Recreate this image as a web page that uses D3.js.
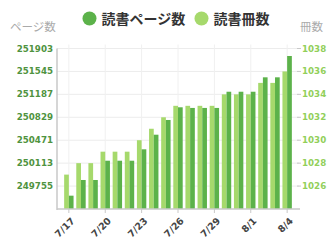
<!DOCTYPE html>
<html>
<head>
<meta charset="utf-8">
<script src="https://cdn.jsdelivr.net/npm/d3@7"></script>
<style>
  html, body { margin: 0; padding: 0; background: #fff; }
  svg { display: block; }
</style>
</head>
<body>
<svg id="chart" width="336" height="244"></svg>
<script>
// data
const days = ['7/17','7/18','7/19','7/20','7/21','7/22','7/23','7/24','7/25','7/26',
              '7/27','7/28','7/29','7/30','7/31','8/1','8/2','8/3','8/4'];
const books = [1027,1028,1028,1029,1029,1029,1030,1031,1032,1033,
               1033,1033,1033,1034,1034,1034,1035,1035,1036];
const pages = [249605,249850,249850,250151,250151,250151,250329,250557,250787,250985,
               250975,250975,250975,251228,251228,251228,251453,251453,251786];
const pageTicks = [249755,250113,250471,250829,251187,251545,251903];
const bookTicks = [1026,1028,1030,1032,1034,1036,1038];
const dayTicks = ['7/17','7/20','7/23','7/26','7/29','8/1','8/4'];

const darkGreen = '#5cb24a', lightGreen = '#a6d96c';

const svg = d3.select('#chart');
const plotLeft = 57, plotRight = 299, plotTop = 48.5, plotBottom = 209;

const x = d3.scaleBand().domain(days).range([plotLeft, plotRight])
    .paddingInner(0.225).paddingOuter(0.59);
const sub = d3.scaleBand().domain(['books','pages']).range([0, x.bandwidth()]);
const yL = d3.scaleLinear().domain([249397, 251903]).range([plotBottom, plotTop]);
const yR = d3.scaleLinear().domain([1024, 1038]).range([plotBottom, plotTop]);

// grid
svg.append('g').selectAll('line').data(pageTicks).enter().append('line')
  .attr('x1', plotLeft).attr('x2', plotRight)
  .attr('y1', d => yL(d)).attr('y2', d => yL(d))
  .attr('stroke', '#ececec').attr('stroke-width', 1);
svg.append('g').selectAll('line').data(dayTicks).enter().append('line')
  .attr('x1', d => x(d) + x.bandwidth() / 2).attr('x2', d => x(d) + x.bandwidth() / 2)
  .attr('y1', plotTop - 4).attr('y2', plotBottom)
  .attr('stroke', '#f0f0f0').attr('stroke-width', 1);

// bars
svg.append('g').selectAll('rect').data(days).enter().append('rect')
  .attr('x', (d) => x(d) + sub('books'))
  .attr('width', sub.bandwidth())
  .attr('y', (d, i) => yR(books[i]))
  .attr('height', (d, i) => plotBottom - yR(books[i]))
  .attr('fill', lightGreen);
svg.append('g').selectAll('rect').data(days).enter().append('rect')
  .attr('x', (d) => x(d) + sub('pages'))
  .attr('width', sub.bandwidth())
  .attr('y', (d, i) => yL(pages[i]))
  .attr('height', (d, i) => plotBottom - yL(pages[i]))
  .attr('fill', darkGreen);

// axis lines
svg.append('line').attr('x1', plotLeft).attr('x2', plotLeft).attr('y1', plotTop).attr('y2', plotBottom + 1)
  .attr('stroke', '#c8c8c8').attr('stroke-width', 1.5);
svg.append('line').attr('x1', plotLeft).attr('x2', plotRight + 1).attr('y1', plotBottom).attr('y2', plotBottom)
  .attr('stroke', '#c8c8c8').attr('stroke-width', 1.5);

// left axis labels
svg.append('g').selectAll('text').data(pageTicks).enter().append('text')
  .attr('x', plotLeft - 4).attr('y', d => yL(d)).attr('dy', '0.35em')
  .attr('text-anchor', 'end')
  .attr('font-family', 'DejaVu Sans').attr('font-weight', 'bold').attr('font-size', '8.7px')
  .attr('fill', '#4f9340')
  .text(d => d);

// right axis ticks + labels
svg.append('g').selectAll('line').data(bookTicks).enter().append('line')
  .attr('x1', plotRight - 2).attr('x2', plotRight + 2)
  .attr('y1', d => yR(d)).attr('y2', d => yR(d))
  .attr('stroke', '#c8c8c8');
svg.append('g').selectAll('text').data(bookTicks).enter().append('text')
  .attr('x', plotRight + 3).attr('y', d => yR(d)).attr('dy', '0.35em')
  .attr('font-family', 'DejaVu Sans').attr('font-weight', 'bold').attr('font-size', '8.7px')
  .attr('fill', '#92cf5a')
  .text(d => d);

// x ticks + labels
svg.append('g').selectAll('line').data(dayTicks).enter().append('line')
  .attr('x1', d => x(d) + x.bandwidth() / 2).attr('x2', d => x(d) + x.bandwidth() / 2)
  .attr('y1', plotBottom).attr('y2', plotBottom + 4)
  .attr('stroke', '#c8c8c8');
svg.append('g').selectAll('text').data(dayTicks).enter().append('text')
  .attr('transform', d => `translate(${x(d) + x.bandwidth() / 2 + 6.5},${plotBottom + 12.5}) rotate(-45)`)
  .attr('text-anchor', 'end')
  .attr('font-family', 'DejaVu Sans').attr('font-weight', 'bold').attr('font-size', '9.5px')
  .attr('fill', '#444')
  .text(d => d);

// axis titles
svg.append('text').attr('x', 10).attr('y', 31)
  .attr('font-family', 'Noto Sans CJK JP').attr('font-size', '11.5px').attr('fill', '#aaa')
  .text('ページ数');
svg.append('text').attr('x', 300).attr('y', 31)
  .attr('font-family', 'Noto Sans CJK JP').attr('font-size', '11.5px').attr('fill', '#aaa')
  .text('冊数');

// legend
const legend = [
  { name: '読書ページ数', color: darkGreen, cx: 89.5 },
  { name: '読書冊数', color: lightGreen, cx: 201.5 }
];
const lg = svg.append('g').selectAll('g').data(legend).enter().append('g');
lg.append('circle').attr('cx', d => d.cx).attr('cy', 18.5).attr('r', 7)
  .attr('fill', d => d.color);
lg.append('text').attr('x', d => d.cx + 12).attr('y', 23.5)
  .attr('font-family', 'Noto Sans CJK JP').attr('font-weight', 'bold').attr('font-size', '14px')
  .attr('fill', '#333')
  .text(d => d.name);
</script>
</body>
</html>
